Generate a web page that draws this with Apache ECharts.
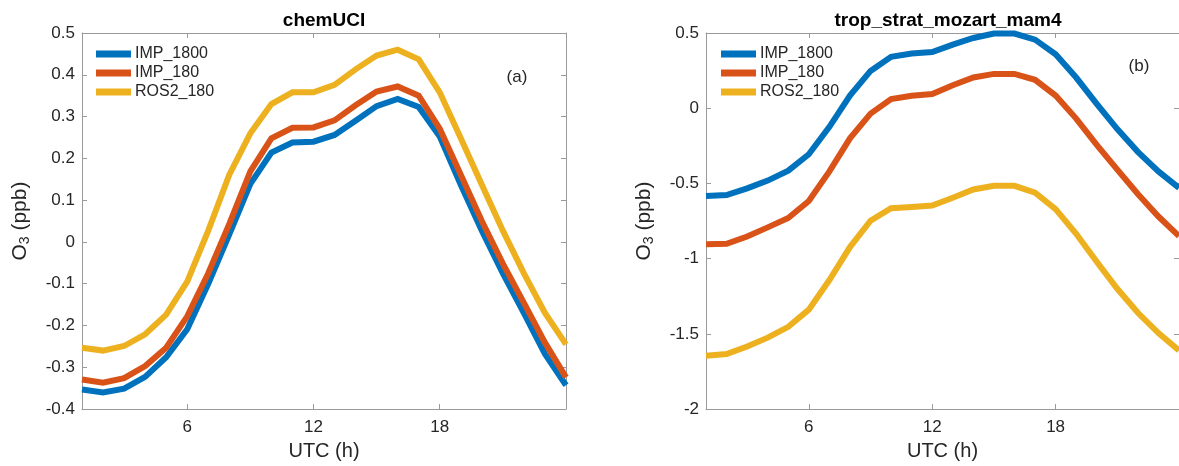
<!DOCTYPE html>
<html>
<head>
<meta charset="utf-8">
<script src="https://cdn.jsdelivr.net/npm/echarts@6/dist/echarts.min.js"></script>
<style>html,body{margin:0;padding:0;background:#fff}#c{width:1179px;height:466px}</style>
</head>
<body>
<div id="c"></div>
<script>
var hours = [1,2,3,4,5,6,7,8,9,10,11,12,13,14,15,16,17,18,19,20,21,22,23,24];
var xTicks = [6, 12, 18];
var seriesNames = ['IMP_1800', 'IMP_180', 'ROS2_180'];
var panelTitles = ['chemUCI', 'trop_strat_mozart_mam4'];
var panelTags = ['(a)', '(b)'];

var uciImp1800 = [-0.353,-0.360,-0.351,-0.323,-0.276,-0.209,-0.100,0.018,0.139,0.214,0.238,0.240,0.256,0.290,0.325,0.342,0.323,0.252,0.137,0.027,-0.075,-0.170,-0.268,-0.343];
var uciImp180  = [-0.329,-0.337,-0.326,-0.297,-0.253,-0.178,-0.075,0.043,0.169,0.248,0.273,0.274,0.291,0.327,0.360,0.372,0.350,0.271,0.161,0.050,-0.052,-0.146,-0.241,-0.324];
var uciRos180  = [-0.253,-0.260,-0.249,-0.221,-0.174,-0.095,0.027,0.161,0.260,0.330,0.358,0.358,0.376,0.413,0.446,0.460,0.437,0.358,0.248,0.137,0.027,-0.075,-0.170,-0.245];

var mozImp1800 = [-0.584,-0.577,-0.533,-0.481,-0.415,-0.306,-0.124,0.084,0.248,0.342,0.364,0.373,0.423,0.467,0.496,0.496,0.456,0.358,0.204,0.029,-0.139,-0.290,-0.420,-0.530];
var mozImp180  = [-0.905,-0.901,-0.853,-0.792,-0.730,-0.617,-0.420,-0.200,-0.036,0.061,0.083,0.094,0.153,0.204,0.228,0.228,0.189,0.084,-0.069,-0.244,-0.408,-0.570,-0.720,-0.850];
var mozRos180  = [-1.645,-1.634,-1.584,-1.525,-1.453,-1.339,-1.142,-0.923,-0.748,-0.665,-0.656,-0.647,-0.595,-0.540,-0.516,-0.516,-0.562,-0.671,-0.835,-1.021,-1.200,-1.360,-1.495,-1.610];

var colors = ['#0072BD', '#D95319', '#EDB120'];
var FONT = '"Liberation Sans", Arial, Helvetica, sans-serif';
var AX = '#9a9a9a';
var TXT = '#262626';

function pairs(ys){ return hours.map(function(h,i){ return [h, ys[i]]; }); }
function fmt(v){ var r = Math.round(v*10)/10; return String(r); }

var grids = [
  {left: 82, top: 33, width: 484, height: 380},
  {left: 706, top: 33, width: 484, height: 380}
];

function xAx(gi, pos){
  var main = pos === 'bottom';
  return {
    type: 'value', gridIndex: gi, position: pos, min: 1, max: 24,
    axisLine: {show: true, onZero: false, lineStyle: {color: AX, width: 1}},
    axisTick: {show: true, inside: true, length: 5, customValues: xTicks, lineStyle: {color: AX}},
    axisLabel: {show: main, customValues: xTicks, margin: 10, color: TXT, fontSize: 17, fontFamily: FONT},
    splitLine: {show: false},
    name: main ? 'UTC (h)' : '', nameLocation: 'middle', nameGap: 31,
    nameTextStyle: {color: TXT, fontSize: 20, fontFamily: FONT}
  };
}
function yAx(gi, pos, mn, mx, iv){
  var main = pos === 'left';
  return {
    type: 'value', gridIndex: gi, position: pos, min: mn, max: mx, interval: iv,
    axisLine: {show: true, onZero: false, lineStyle: {color: AX, width: 1}},
    axisTick: {show: true, inside: true, length: 5, lineStyle: {color: AX}},
    axisLabel: {show: main, margin: 7, color: TXT, fontSize: 17, fontFamily: FONT, formatter: fmt},
    splitLine: {show: false},
    name: main ? '{a|O}{b|3}{a| (ppb)}' : '', nameLocation: 'middle', nameGap: 50, nameRotate: 90,
    nameTextStyle: {
      color: TXT, fontFamily: FONT,
      rich: {
        a: {fontSize: 21, lineHeight: 24, color: TXT, fontFamily: FONT},
        b: {fontSize: 14, lineHeight: 8, verticalAlign: 'bottom', color: TXT, fontFamily: FONT}
      }
    }
  };
}

var panelData = [[uciImp1800, uciImp180, uciRos180], [mozImp1800, mozImp180, mozRos180]];
var series = [];
panelData.forEach(function(set, p){
  set.forEach(function(ys, k){
    series.push({
      name: seriesNames[k], type: 'line', xAxisIndex: p*2, yAxisIndex: p*2,
      data: pairs(ys), showSymbol: false, symbol: 'none', animation: false,
      lineStyle: {color: colors[k], width: 6, join: 'miter'}, itemStyle: {color: colors[k]}
    });
  });
});

function legendAt(left){
  return {
    orient: 'vertical', left: left, top: 46, padding: 0, itemWidth: 35, itemHeight: 7, itemGap: 3,
    icon: 'rect', selectedMode: false, data: seriesNames,
    textStyle: {color: TXT, fontSize: 16, lineHeight: 16, fontFamily: FONT, padding: [0,0,0,-1]}
  };
}

var chart = echarts.init(document.getElementById('c'), null, {renderer: 'canvas'});
chart.setOption({
  animation: false,
  color: colors,
  grid: grids,
  xAxis: [xAx(0,'bottom'), xAx(0,'top'), xAx(1,'bottom'), xAx(1,'top')],
  yAxis: [yAx(0,'left',-0.4,0.5,0.1), yAx(0,'right',-0.4,0.5,0.1), yAx(1,'left',-2,0.5,0.5), yAx(1,'right',-2,0.5,0.5)],
  legend: [legendAt(96), legendAt(721)],
  series: series,
  graphic: [
    {type: 'text', x: 324, y: 21, style: {text: panelTitles[0], align: 'center', verticalAlign: 'middle', fontSize: 19, fontWeight: 'bold', fontFamily: FONT, fill: '#000'}},
    {type: 'text', x: 948, y: 21, style: {text: panelTitles[1], align: 'center', verticalAlign: 'middle', fontSize: 19, fontWeight: 'bold', fontFamily: FONT, fill: '#000'}},
    {type: 'text', x: 517, y: 77, style: {text: panelTags[0], align: 'center', verticalAlign: 'middle', fontSize: 17, fontFamily: FONT, fill: TXT}},
    {type: 'text', x: 1139, y: 66, style: {text: panelTags[1], align: 'center', verticalAlign: 'middle', fontSize: 17, fontFamily: FONT, fill: TXT}}
  ]
});
</script>
</body>
</html>
